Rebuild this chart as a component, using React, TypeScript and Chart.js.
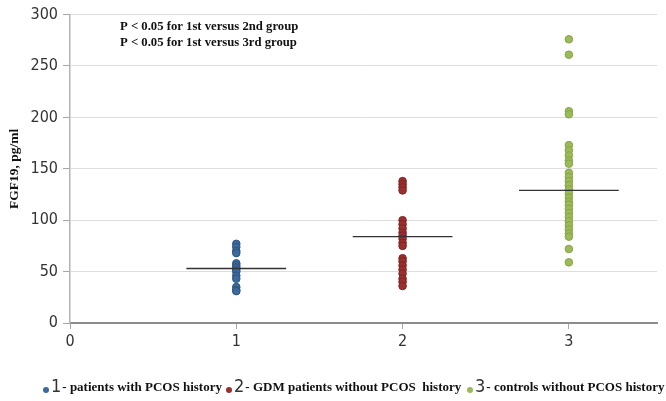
import { useEffect, useRef } from "react";
import { Chart, registerables } from "chart.js";
Chart.register(...registerables);

const groupPositions = [1, 2, 3];
const group1 = [77, 74, 70, 68, 58, 56, 54, 52, 50, 46, 43, 35, 32, 31];
const group2 = [138, 135, 132, 129, 100, 96, 92, 88, 85, 82, 78, 75, 63, 60, 56, 52, 48, 43, 40, 36];
const group3 = [276, 261, 206, 203, 173, 168, 163, 158, 155, 146, 142, 138, 134, 130, 126, 122, 118, 115, 111, 107, 103, 99, 95, 91, 87, 84, 72, 59];
const means = [53, 84, 129];
const legendNumbers = ["1", "2", "3"];
const legendLabels = [
  "- patients with PCOS history",
  "- GDM patients without PCOS  history",
  "- controls without PCOS history",
];
const annotationLines = [
  "P < 0.05 for 1st versus 2nd group",
  "P < 0.05 for 1st versus 3rd group",
];
const xTicks = [0, 1, 2, 3];
const yTitle = "FGF19, pg/ml";

const fills = ["#3b6a9c", "#9a2f2f", "#9bbb59"];
const borders = ["#2e5683", "#7f2424", "#86a447"];

const overlayPlugin = {
  id: "overlay",
  afterDraw(chart: any) {
    const ctx = chart.ctx;
    const ys = chart.scales.y;
    ctx.save();
    // annotation
    ctx.fillStyle = "#111";
    ctx.font = "bold 12.7px 'Liberation Serif'";
    ctx.textBaseline = "middle";
    ctx.textAlign = "left";
    annotationLines.forEach((t, i) => ctx.fillText(t, 120, 27 + i * 16));
    // y title
    ctx.save();
    ctx.translate(15, (ys.top + ys.bottom) / 2);
    ctx.rotate(-Math.PI / 2);
    ctx.textAlign = "center";
    ctx.font = "bold 13.5px 'Liberation Serif'";
    ctx.fillText(yTitle, 0, 0);
    ctx.restore();
    // legend
    const starts = [46, 229, 470];
    const ly = 388;
    legendLabels.forEach((label, i) => {
      const x = starts[i];
      ctx.beginPath();
      ctx.arc(x, ly + 2, 3, 0, Math.PI * 2);
      ctx.fillStyle = fills[i];
      ctx.fill();
      ctx.fillStyle = "#333";
      ctx.font = "18px 'DejaVu Sans Condensed'";
      ctx.textAlign = "left";
      ctx.fillText(legendNumbers[i], x + 5, ly - 1);
      const w = ctx.measureText(legendNumbers[i]).width;
      ctx.font = "bold 13px 'Liberation Serif'";
      ctx.fillStyle = "#111";
      ctx.fillText(label, x + 6 + w, ly);
    });
    ctx.restore();
  },
};

export default function App() {
  const ref = useRef<HTMLCanvasElement>(null);
  useEffect(() => {
    const groups = [group1, group2, group3];
    const scatterSets = groups.map((vals, gi) => ({
      type: "scatter" as const,
      label: legendLabels[gi],
      data: vals.map((v) => ({ x: groupPositions[gi], y: v })),
      backgroundColor: fills[gi],
      borderColor: borders[gi],
      borderWidth: 1,
      pointRadius: 3.8,
      order: 1,
    }));
    const meanSets = means.map((m, gi) => ({
      type: "line" as const,
      label: "mean" + gi,
      data: [
        { x: groupPositions[gi] - 0.3, y: m },
        { x: groupPositions[gi] + 0.3, y: m },
      ],
      borderColor: "#333",
      borderWidth: 1.4,
      pointRadius: 0,
      order: 0,
    }));
    const chart = new Chart(ref.current!, {
      type: "scatter",
      data: { datasets: [...scatterSets, ...meanSets] as any },
      options: {
        animation: false,
        responsive: false,
        layout: { padding: { top: 12, right: 9, left: 0, bottom: 0 } },
        plugins: { legend: { display: false }, tooltip: { enabled: false } },
        scales: {
          x: {
            type: "linear",
            min: 0,
            max: 3.53,
            afterBuildTicks: (s: any) => {
              s.ticks = xTicks.map((v) => ({ value: v }));
            },
            afterFit: (s: any) => {
              s.height = 78;
            },
            ticks: {
              color: "#333",
              font: { family: "'DejaVu Sans Condensed'", size: 16 },
              padding: 3,
            },
            grid: { drawOnChartArea: false, drawTicks: true, tickLength: 6, color: "#a6a6a6" },
            border: { color: "#8c8c8c", width: 2 },
          },
          y: {
            min: 0,
            max: 300,
            afterFit: (s: any) => {
              s.width = 70;
            },
            ticks: {
              stepSize: 50,
              color: "#333",
              font: { family: "'DejaVu Sans Condensed'", size: 16 },
              padding: 5,
            },
            grid: { color: "#dedede", tickLength: 7, tickColor: "#a6a6a6" },
            border: { color: "#b3b3b3", width: 1.5 },
          },
        },
      },
      plugins: [overlayPlugin],
    });
    return () => chart.destroy();
  }, []);
  return (
    <div style={{ position: "fixed", left: 0, top: 0, width: 666, height: 401, background: "#fff" }}>
      <canvas ref={ref} width={666} height={401} style={{ width: 666, height: 401 }} />
    </div>
  );
}
